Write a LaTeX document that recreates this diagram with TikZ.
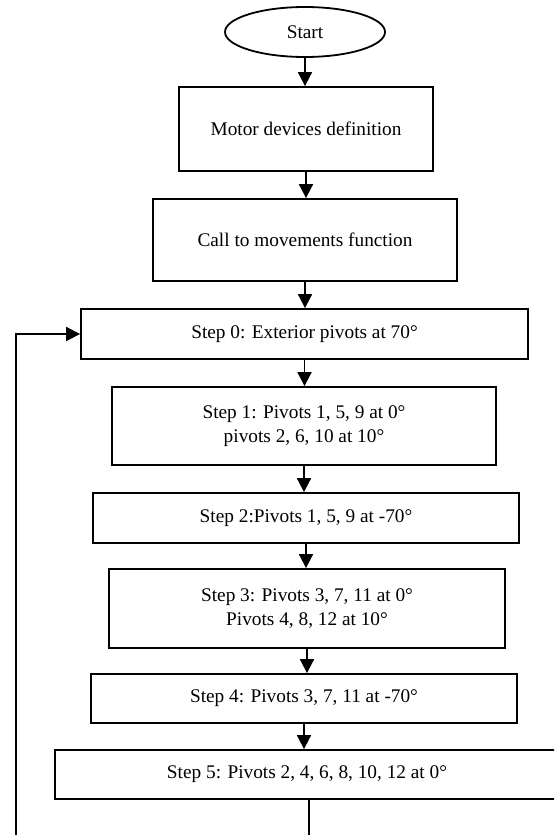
\documentclass[tikz,border=0pt]{standalone}
\usepackage{fontspec}
\setmainfont{Liberation Serif}
\usetikzlibrary{arrows.meta,shapes.geometric}
\begin{document}
\begin{tikzpicture}[x=1pt,y=-1pt,
  every node/.style={font=\fontsize{19.3}{24}\selectfont, align=center, inner sep=0pt},
  box/.style={draw, line width=1.8pt, rectangle},
  arr/.style={line width=1.8pt, -{Triangle[width=14pt,length=14pt]}},
  conn/.style={line width=1.8pt}]
\path[use as bounding box] (0,0) rectangle (554,835);
\clip (0,0) rectangle (554,835);
\node[draw, line width=1.8pt, ellipse, minimum width=160pt, minimum height=50pt] (start) at (305,32) {Start};
\node[box, minimum width=254pt, minimum height=84pt] (b1) at (306,129) {Motor devices definition};
\node[box, minimum width=304pt, minimum height=82pt] (b2) at (305,240) {Call to movements function};
\node[box, minimum width=447pt, minimum height=50pt] (s0) at (304.5,334) {Step 0: Exterior pivots at 70°};
\node[box, minimum width=384pt, minimum height=78pt] (s1) at (304,426) {Step 1: Pivots 1, 5, 9 at 0°\\pivots 2, 6, 10 at 10°};
\node[box, minimum width=426pt, minimum height=50pt] (s2) at (306,518) {Step 2:Pivots 1, 5, 9 at -70°};
\node[box, minimum width=396pt, minimum height=79pt] (s3) at (307,608.5) {Step 3: Pivots 3, 7, 11 at 0°\\Pivots 4, 8, 12 at 10°};
\node[box, minimum width=426pt, minimum height=49pt] (s4) at (304,698.5) {Step 4: Pivots 3, 7, 11 at -70°};
\node[box, minimum width=504pt, minimum height=49pt] (s5) at (307,774.5) {Step 5: Pivots 2, 4, 6, 8, 10, 12 at 0°};
\coordinate (c1) at (309,850);
\coordinate (c2) at (16,850);
\draw[arr] (start.south) -- (start.south |- b1.north);
\draw[arr] (b1.south) -- (b1.south |- b2.north);
\draw[arr] (b2.south) -- (b2.south |- s0.north);
\draw[arr] (s0.south) -- (s0.south |- s1.north);
\draw[arr] (s1.south) -- (s1.south |- s2.north);
\draw[arr] (s2.south) -- (s2.south |- s3.north);
\draw[arr] (s3.south) -- (s3.south |- s4.north);
\draw[arr] (s4.south) -- (s4.south |- s5.north);
\draw[arr] (s5.south -| c1) -- (c1) -- (c2) |- (s0.west);
\end{tikzpicture}
\end{document}
